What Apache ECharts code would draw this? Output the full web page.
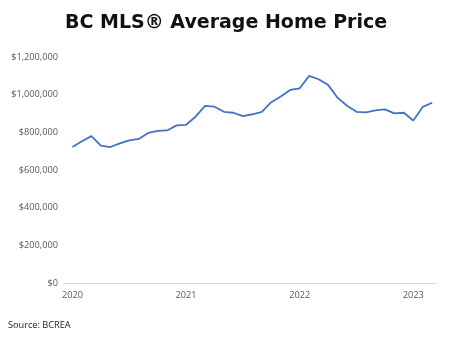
<!DOCTYPE html>
<html>
<head>
<meta charset="utf-8">
<script src="https://cdn.jsdelivr.net/npm/echarts@6/dist/echarts.min.js"></script>
<style>
  html, body { margin: 0; padding: 0; background: #fff; }
  #chart { width: 463px; height: 352px; }
</style>
</head>
<body>
<div id="chart"></div>
<script>
// monthly average price, Jan 2020 .. Mar 2023
const months = [
  '2020-01', '2020-02', '2020-03', '2020-04', '2020-05', '2020-06', '2020-07', '2020-08', '2020-09', '2020-10', '2020-11', '2020-12',
  '2021-01', '2021-02', '2021-03', '2021-04', '2021-05', '2021-06', '2021-07', '2021-08', '2021-09', '2021-10', '2021-11', '2021-12',
  '2022-01', '2022-02', '2022-03', '2022-04', '2022-05', '2022-06', '2022-07', '2022-08', '2022-09', '2022-10', '2022-11', '2022-12',
  '2023-01', '2023-02', '2023-03'
]
const prices = [
  722000, 753000, 780000, 730000, 722000, 741000, 757000, 765000, 797000, 808000, 810000, 837000,
  840000, 883000, 940000, 936000, 909000, 904000, 886000, 896000, 908000, 960000, 990000, 1025000,
  1034000, 1100000, 1082000, 1052000, 984000, 941000, 909000, 906000, 917000, 922000, 901000, 904000,
  863000, 935000, 957000
]
const yearTicks = [0, 12, 24, 36]
const yTicks = [0, 200000, 400000, 600000, 800000, 1000000, 1200000]

const chart = echarts.init(document.getElementById('chart'))
const money = v => '$' + v.toLocaleString('en-US')

chart.setOption({
  animation: false,
  title: {
    text: 'BC MLS® Average Home Price',
    left: 60,
    top: 9,
    textStyle: { fontFamily: 'DejaVu Sans', fontSize: 19, fontWeight: 'bold', color: '#111' }
  },
  graphic: [{
    type: 'text',
    left: 8,
    top: 321,
    style: { text: 'Source: BCREA', fontFamily: 'Open Sans', fontSize: 9.2, fill: '#222' }
  }],
  grid: { left: 63, right: 27, top: 57, bottom: 69 },
  xAxis: {
    type: 'value',
    min: -1,
    max: 38.4,
    axisLine: { show: true, lineStyle: { color: '#d9d9d9' } },
    axisTick: { show: false },
    splitLine: { show: false },
    axisLabel: {
      customValues: yearTicks,
      color: '#595959',
      fontFamily: 'Open Sans',
      fontSize: 9.2,
      margin: 8,
      formatter: v => months[v].slice(0, 4)
    }
  },
  yAxis: {
    type: 'value',
    min: 0,
    max: yTicks[yTicks.length - 1],
    interval: 200000,
    axisLine: { show: false },
    axisTick: { show: false },
    splitLine: { show: false },
    axisLabel: {
      color: '#595959',
      fontFamily: 'Open Sans',
      fontSize: 9.2,
      margin: 5,
      formatter: money
    }
  },
  series: [{
    type: 'line',
    data: prices.map((p, i) => [i, p]),
    showSymbol: false,
    lineStyle: { color: '#4472c4', width: 1.8 }
  }]
})
</script>
</body>
</html>
